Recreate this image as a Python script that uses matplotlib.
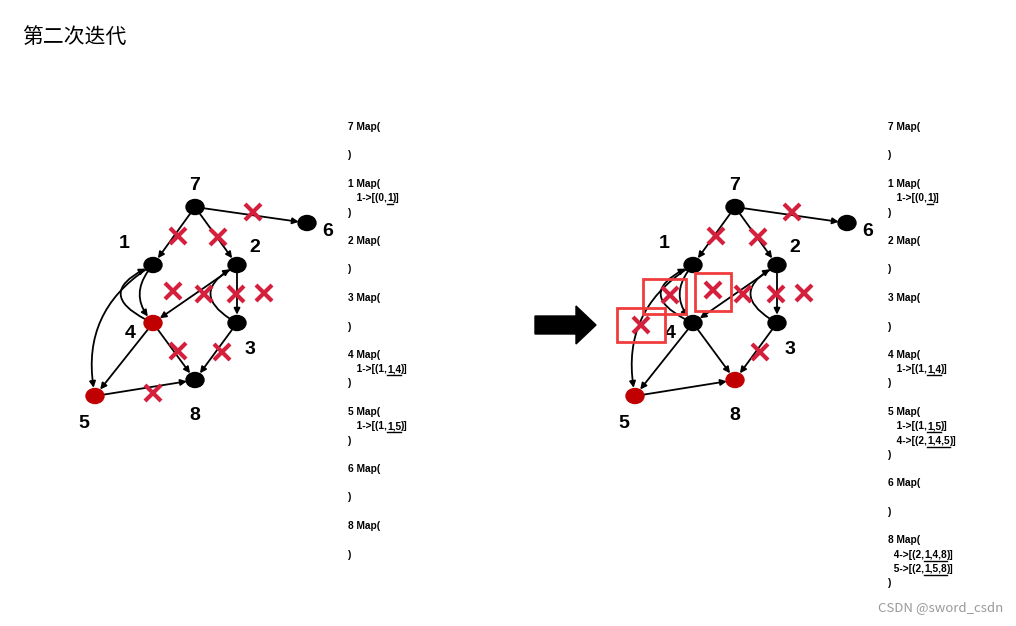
import matplotlib
matplotlib.use("Agg")
import matplotlib.pyplot as plt
from matplotlib.patches import Ellipse, FancyArrowPatch, Rectangle, Polygon

W, H = 1016, 626
fig = plt.figure(figsize=(W/100, H/100), dpi=100)
ax = fig.add_axes([0, 0, 1, 1])
ax.set_xlim(0, W); ax.set_ylim(H, 0); ax.axis('off')

# ---- data ----
node_names = ['7', '6', '1', '2', '4', '3', '8', '5']
node_pos = {'7': (195, 207), '6': (307, 223), '1': (153, 265), '2': (237, 265),
            '4': (153, 323), '3': (237, 323), '8': (195, 380), '5': (95, 396)}
label_pos = {'7': (195, 185), '6': (328, 232), '1': (124, 243), '2': (255, 248),
             '4': (130, 333), '3': (250, 349), '8': (195, 415), '5': (84, 423)}
# edges: (src, dst, rad)
edges = [('7', '1', 0), ('7', '2', 0), ('7', '6', 0), ('1', '4', 0.45), ('4', '1', -1.1),
         ('1', '5', 0.35), ('2', '4', 0), ('2', '3', 0), ('3', '2', -0.9),
         ('4', '5', 0), ('4', '8', 0), ('3', '8', 0), ('5', '8', 0)]
red_left = ['4', '5']
red_right = ['5', '8']
cross_left = [(178, 236), (218, 237), (253, 212), (173, 291), (204, 294), (236, 294),
              (264, 293), (178, 351), (222, 352), (153, 393)]
cross_right = [(716, 236), (758, 237), (792, 212), (670, 295), (713, 290), (743, 294),
               (776, 294), (804, 293), (641, 325), (760, 352)]
boxes_right = [(643, 279, 43, 35), (695, 273, 36, 38), (617, 308, 48, 34)]

left_lines = [[("7 Map(", 0)], [], [(")", 0)], [],
              [("1 Map(", 0)], [("   1->[(0,", 0), ("1", 1), (")]", 0)], [(")", 0)], [],
              [("2 Map(", 0)], [], [(")", 0)], [],
              [("3 Map(", 0)], [], [(")", 0)], [],
              [("4 Map(", 0)], [("   1->[(1,", 0), ("1,4", 1), (")]", 0)], [(")", 0)], [],
              [("5 Map(", 0)], [("   1->[(1,", 0), ("1,5", 1), (")]", 0)], [(")", 0)], [],
              [("6 Map(", 0)], [], [(")", 0)], [],
              [("8 Map(", 0)], [], [(")", 0)]]
right_lines = [[("7 Map(", 0)], [], [(")", 0)], [],
               [("1 Map(", 0)], [("   1->[(0,", 0), ("1", 1), (")]", 0)], [(")", 0)], [],
               [("2 Map(", 0)], [], [(")", 0)], [],
               [("3 Map(", 0)], [], [(")", 0)], [],
               [("4 Map(", 0)], [("   1->[(1,", 0), ("1,4", 1), (")]", 0)], [(")", 0)], [],
               [("5 Map(", 0)], [("   1->[(1,", 0), ("1,5", 1), (")]", 0)],
               [("   4->[(2,", 0), ("1,4,5", 1), (")]", 0)], [(")", 0)], [],
               [("6 Map(", 0)], [], [(")", 0)], [],
               [("8 Map(", 0)], [("  4->[(2,", 0), ("1,4,8", 1), (")]", 0)],
               [("  5->[(2,", 0), ("1,5,8", 1), (")]", 0)], [(")", 0)]]

RED = '#d4203c'
FONT = 'Liberation Sans'

def draw_graph(dx, reds, crosses):
    P = {k: (x + dx, y) for k, (x, y) in node_pos.items()}
    for s, d, rad in edges:
        a = FancyArrowPatch(P[s], P[d], arrowstyle='-|>', mutation_scale=9,
                            connectionstyle=f'arc3,rad={rad}', lw=1.3, color='black',
                            shrinkA=6, shrinkB=6, zorder=2)
        ax.add_patch(a)
    for k in node_names:
        c = '#c00000' if k in reds else 'black'
        ax.add_patch(Ellipse(P[k], 18, 15, color=c, zorder=3))
        lx, ly = label_pos[k]
        ax.text(lx + dx, ly, k, fontsize=14, fontweight='bold', family=FONT,
                ha='center', va='center', zorder=4)
    for cx, cy in crosses:
        r = 8
        ax.plot([cx - r, cx + r], [cy - r, cy + r], color=RED, lw=3, zorder=5, solid_capstyle='butt')
        ax.plot([cx - r, cx + r], [cy + r, cy - r], color=RED, lw=3, zorder=5, solid_capstyle='butt')

draw_graph(0, red_left, cross_left)
draw_graph(540, red_right, cross_right)
for x, y, w, h in boxes_right:
    ax.add_patch(Rectangle((x, y), w, h, fill=False, ec='#f03c3c', lw=2, zorder=6))

# big arrow
ax.add_patch(Polygon([(535, 316), (576, 316), (576, 306), (596, 325), (576, 344),
                      (576, 334), (535, 334)], closed=True, color='black'))

fig.canvas.draw()
rend = fig.canvas.get_renderer()
inv = ax.transData.inverted()

def draw_lines(x0, lines):
    for i, parts in enumerate(lines):
        y = 127 + 14.25 * i
        x = x0
        for txt, ul in parts:
            t = ax.text(x, y, txt, fontsize=7.3, fontweight='bold', family=FONT,
                        ha='left', va='center')
            bb = t.get_window_extent(renderer=rend)
            (xa, _), (xb, _) = inv.transform([(bb.x0, 0), (bb.x1, 0)])
            w = xb - xa
            if ul:
                ax.plot([x, x + w], [y + 6, y + 6], color='black', lw=1)
            x += w

draw_lines(348, left_lines)
draw_lines(888, right_lines)

ax.text(22, 37, "第二次迭代", fontsize=15, family=['Noto Sans CJK SC', 'DejaVu Sans'],
        ha='left', va='center')
ax.text(1003, 608, "CSDN @sword_csdn", fontsize=9.5, color='#999999',
        family=['Noto Sans CJK SC', 'DejaVu Sans'], ha='right', va='center')

fig.savefig('out.png', dpi=100)
